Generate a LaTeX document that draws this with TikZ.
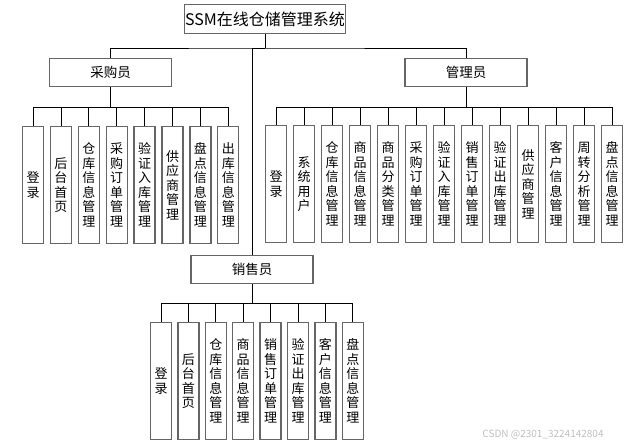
\documentclass[tikz,border=0pt]{standalone}
\usepackage{fontspec}
\newfontfamily\cjk{Noto Sans CJK SC}
\usetikzlibrary{positioning}
\tikzset{
  sysbox/.style={rectangle, draw=black!60, line width=1.3pt, fill=white, minimum width=161pt, minimum height=29pt, inner sep=0pt, font=\cjk\fontsize{16}{16}\selectfont},
  rolebox/.style={rectangle, draw=black!60, line width=1.3pt, fill=white, minimum width=122pt, minimum height=28pt, inner sep=0pt, font=\cjk\fontsize{13.5}{13.5}\selectfont},
  leaf/.style={rectangle, draw=black!60, line width=1.3pt, minimum width=21pt, minimum height=117pt, inner sep=0pt, align=center, font=\cjk\fontsize{13}{14.5}\selectfont},
  link/.style={line width=0.8pt}
}

\begin{document}
\begin{tikzpicture}[x=1pt, y=-1pt]
  \useasboundingbox (0,0) rectangle (628,447);

  % System and roles
  \node[sysbox] (sys) at (265,19) {SSM在线仓储管理系统};
  \node[rolebox] (buyer) at (110.5,72.5) {采购员};
  \node[rolebox] (admin) at (466,72.5) {管理员};
  \node[rolebox] (seller) at (252,269.5) {销售员};

  \coordinate (bus) at (265,48);
  \draw[link] (sys.south) -- (bus);
  \draw[link] (buyer.north) |- (bus) -| (admin.north);
  \draw[link] (seller.north) |- (bus);

  % Buyer functions
  \foreach \i/\txt in {1/{登\\录}, 2/{后\\台\\首\\页}, 3/{仓\\库\\信\\息\\管\\理},
                       4/{采\\购\\订\\单\\管\\理}, 5/{验\\证\\入\\库\\管\\理},
                       6/{供\\应\\商\\管\\理}, 7/{盘\\点\\信\\息\\管\\理},
                       8/{出\\库\\信\\息\\管\\理}}{
    \node[leaf] (b\i) at ({33+27.9*(\i-1)},185) {\txt};
  }
  \path (buyer.south) ++(0,20) coordinate (bbus);
  \draw[link] (buyer.south) -- (bbus);
  \draw[link] (b1.north |- bbus) -- (b8.north |- bbus);
  \foreach \i in {1,...,8}
    \draw[link] (b\i.north) -- (b\i.north |- bbus);

  % Admin functions
  \foreach \i/\txt in {1/{登\\录}, 2/{系\\统\\用\\户}, 3/{仓\\库\\信\\息\\管\\理},
                       4/{商\\品\\信\\息\\管\\理}, 5/{商\\品\\分\\类\\管\\理},
                       6/{采\\购\\订\\单\\管\\理}, 7/{验\\证\\入\\库\\管\\理},
                       8/{销\\售\\订\\单\\管\\理}, 9/{验\\证\\出\\库\\管\\理},
                       10/{供\\应\\商\\管\\理}, 11/{客\\户\\信\\息\\管\\理},
                       12/{周\\转\\分\\析\\管\\理}, 13/{盘\\点\\信\\息\\管\\理}}{
    \node[leaf] (a\i) at ({276+28*(\i-1)},184) {\txt};
  }
  \path (admin.south) ++(0,20) coordinate (abus);
  \draw[link] (admin.south) -- (abus);
  \draw[link] (a1.north |- abus) -- (a13.north |- abus);
  \foreach \i in {1,...,13}
    \draw[link] (a\i.north) -- (a\i.north |- abus);

  % Seller functions
  \foreach \i/\txt in {1/{登\\录}, 2/{后\\台\\首\\页}, 3/{仓\\库\\信\\息\\管\\理},
                       4/{商\\品\\信\\息\\管\\理}, 5/{销\\售\\订\\单\\管\\理},
                       6/{验\\证\\出\\库\\管\\理}, 7/{客\\户\\信\\息\\管\\理},
                       8/{盘\\点\\信\\息\\管\\理}}{
    \node[leaf] (s\i) at ({161+27.4*(\i-1)},381) {\txt};
  }
  \path (seller.south) ++(0,19) coordinate (sbus);
  \draw[link] (seller.south) -- (sbus);
  \draw[link] (s1.north |- sbus) -- (s8.north |- sbus);
  \foreach \i in {1,...,8}
    \draw[link] (s\i.north) -- (s\i.north |- sbus);

  \node[text=black!25, font=\cjk\fontsize{10}{10}\selectfont] (mark) at (543,435) {CSDN @2301\_3224142804};
\end{tikzpicture}
\end{document}
